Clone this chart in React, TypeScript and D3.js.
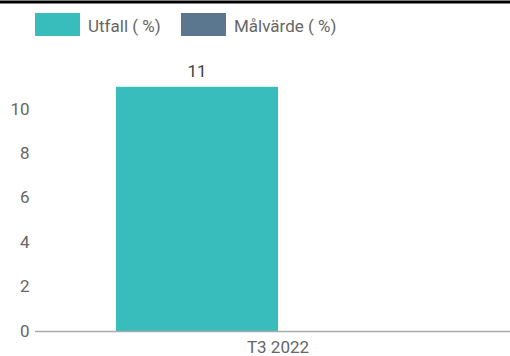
import React from "react";
import * as d3 from "d3";

const categories = ["T3 2022"];
const seriesNames = ["Utfall ( %)", "Målvärde ( %)"];
const utfall: (number | null)[] = [11];
const malvarde: (number | null)[] = [null];
const yTicks = [0, 2, 4, 6, 8, 10];
const colors = ["#38BCBC", "#5A778F"];

export default function App() {
  const W = 510, H = 356;
  const left = 35, right = 521, top = 64.6, bottom = 331;
  const x = d3.scaleBand<string>().domain(categories).range([left, right]).paddingInner(0).paddingOuter(0);
  const x1 = d3.scaleBand<string>().domain(seriesNames).range([0, x.bandwidth()]).paddingOuter(0.5).paddingInner(0);
  const y = d3.scaleLinear().domain([0, 12]).range([bottom, top]);
  const series = [utfall, malvarde];
  const fs = 17;
  return (
    <svg width={W} height={H} style={{ position: "absolute", left: 0, top: 0, fontFamily: "Roboto, sans-serif" }}>
      <rect x={0} y={0} width={W} height={H} fill="#fff" />
      <rect x={0} y={0.5} width={W} height={3} fill="#000" />
      {seriesNames.map((s, i) => {
        const lx = [35, 181][i];
        return (
          <g key={s}>
            <rect x={lx} y={13} width={45} height={23} fill={colors[i]} />
            <text x={lx + 53} y={31.5} fontSize={fs} fill="#666">{s}</text>
          </g>
        );
      })}
      {yTicks.map((t) => (
        <text key={t} x={29.5} y={y(t)} dy="0.33em" textAnchor="end" fontSize={fs} fill="#666">{t}</text>
      ))}
      {categories.map((c, ci) =>
        series.map((vals, si) => {
          const v = vals[ci];
          if (v == null) return null;
          const bx = (x(c) ?? 0) + (x1(seriesNames[si]) ?? 0);
          return (
            <g key={c + si}>
              <rect x={bx} y={y(v)} width={x1.bandwidth()} height={bottom - y(v)} fill={colors[si]} />
              <text x={bx + x1.bandwidth() / 2} y={y(v) - 9.5} textAnchor="middle" fontSize={fs} fill="#444">{v}</text>
            </g>
          );
        })
      )}
      <line x1={left} x2={W} y1={bottom + 0.5} y2={bottom + 0.5} stroke="#aaa" strokeWidth={1.5} />
      {categories.map((c) => (
        <text key={c} x={(x(c) ?? 0) + x.bandwidth() / 2} y={bottom + 22} textAnchor="middle" fontSize={fs} fill="#666">{c}</text>
      ))}
    </svg>
  );
}
